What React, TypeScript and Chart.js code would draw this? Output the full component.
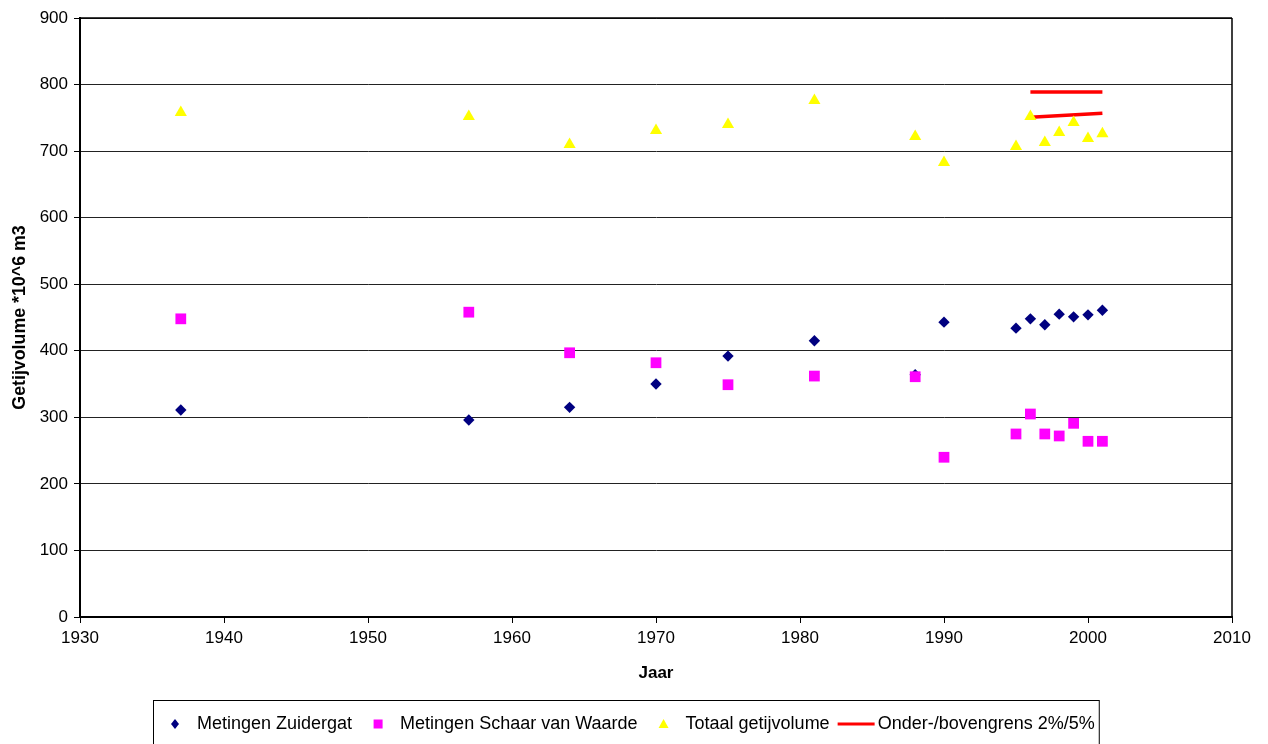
import React, { useEffect, useRef } from 'react';
import { Chart, registerables } from 'chart.js';

Chart.register(...registerables);

const years = [1937, 1957, 1964, 1970, 1975, 1981, 1988, 1990, 1995, 1996, 1997, 1998, 1999, 2000, 2001];
const zuidergat = [311, 296, 315, 350, 392, 415, 364, 443, 434, 448, 439, 455, 451, 454, 461];
const schaar = [448, 458, 397, 382, 349, 362, 361, 240, 275, 305, 275, 272, 291, 264, 264];
const totaal = [758, 752, 710, 731, 740, 776, 722, 683, 707, 752, 713, 728, 743, 719, 726];
const grensYears = [1996, 2001];
const ondergrens = [751, 757];
const bovengrens = [789, 789];

const seriesLabels = ['Metingen Zuidergat', 'Metingen Schaar van Waarde', 'Totaal getijvolume', 'Onder-/bovengrens 2%/5%'];
const xTitle = 'Jaar';
const yTitle = 'Getijvolume *10^6 m3';

const NAVY = '#000080';
const MAGENTA = '#FF00FF';
const YELLOW = '#FFFF00';
const RED = '#FF0000';
const FONT = '"Liberation Sans", Arial, sans-serif';

const pts = (xs: number[], ys: number[]) => xs.map((x, i) => ({ x, y: ys[i] }));

const frameLegendPlugin = {
  id: 'frameLegend',
  afterDraw(chart: any) {
    const ctx = chart.ctx as CanvasRenderingContext2D;
    const a = chart.chartArea;
    ctx.save();
    ctx.strokeStyle = '#000';
    ctx.lineWidth = 1.5;
    ctx.beginPath();
    ctx.moveTo(a.right, a.top);
    ctx.lineTo(a.right, a.bottom);
    ctx.moveTo(a.left, a.top);
    ctx.lineTo(a.right, a.top);
    ctx.stroke();

    // boxed legend
    const items = chart.data.datasets.filter((d: any) => !d.hideInLegend);
    ctx.font = '18px ' + FONT;
    ctx.textBaseline = 'middle';
    ctx.textAlign = 'left';
    const boxLeft = 153;
    const boxTop = 700;
    const y = 724;
    let x = boxLeft + 22;
    let lastEnd = x;
    items.forEach((d: any) => {
      const style = d.legendMarker;
      ctx.fillStyle = d.backgroundColor;
      ctx.strokeStyle = d.borderColor;
      if (style === 'diamond') {
        ctx.beginPath();
        ctx.moveTo(x, y - 5);
        ctx.lineTo(x + 4, y);
        ctx.lineTo(x, y + 5);
        ctx.lineTo(x - 4, y);
        ctx.closePath();
        ctx.fill();
      } else if (style === 'square') {
        ctx.fillRect(x - 4.5, y - 4.5, 9, 9);
      } else if (style === 'triangle') {
        ctx.beginPath();
        ctx.moveTo(x, y - 5);
        ctx.lineTo(x + 5, y + 4);
        ctx.lineTo(x - 5, y + 4);
        ctx.closePath();
        ctx.fill();
      } else {
        ctx.lineWidth = 3;
        ctx.beginPath();
        ctx.moveTo(x - 18, y);
        ctx.lineTo(x + 19, y);
        ctx.stroke();
      }
      const tx = x + 22;
      ctx.fillStyle = '#000';
      ctx.fillText(d.label, tx, y);
      const w = ctx.measureText(d.label).width;
      lastEnd = tx + w;
      x = lastEnd + 26;
    });
    ctx.strokeStyle = '#000';
    ctx.lineWidth = 1;
    ctx.strokeRect(boxLeft + 0.5, boxTop + 0.5, lastEnd + 4 - boxLeft, 80);
    ctx.restore();
  },
};

export default function App() {
  const ref = useRef<HTMLCanvasElement | null>(null);

  useEffect(() => {
    if (!ref.current) return;
    const chart = new Chart(ref.current, {
      type: 'scatter',
      data: {
        datasets: [
          {
            label: seriesLabels[0],
            data: pts(years, zuidergat),
            pointStyle: 'rectRot',
            pointRadius: 5.7,
            pointHoverRadius: 5.7,
            backgroundColor: NAVY,
            borderColor: NAVY,
            borderWidth: 0,
            order: 4,
            legendMarker: 'diamond',
          } as any,
          {
            label: seriesLabels[1],
            data: pts(years, schaar),
            pointStyle: 'rect',
            pointRadius: 7.6,
            pointHoverRadius: 7.6,
            backgroundColor: MAGENTA,
            borderColor: MAGENTA,
            borderWidth: 0,
            order: 3,
            legendMarker: 'square',
          } as any,
          {
            label: seriesLabels[2],
            data: pts(years, totaal),
            pointStyle: 'triangle',
            pointRadius: 7,
            pointHoverRadius: 7,
            backgroundColor: YELLOW,
            borderColor: YELLOW,
            borderWidth: 0,
            order: 2,
            legendMarker: 'triangle',
          } as any,
          {
            label: seriesLabels[3],
            data: pts(grensYears, ondergrens),
            showLine: true,
            pointRadius: 0,
            borderColor: RED,
            backgroundColor: RED,
            borderWidth: 3.5,
            order: 5,
            legendMarker: 'line',
          } as any,
          {
            label: seriesLabels[3],
            data: pts(grensYears, bovengrens),
            showLine: true,
            pointRadius: 0,
            borderColor: RED,
            backgroundColor: RED,
            borderWidth: 3.5,
            order: 5,
            hideInLegend: true,
          } as any,
        ],
      },
      options: {
        animation: false,
        responsive: false,
        layout: { padding: { top: 18, right: 36, left: 9, bottom: 60 } },
        plugins: {
          legend: { display: false },
          tooltip: { enabled: false },
        },
        scales: {
          x: {
            type: 'linear',
            min: 1930,
            max: 2010,
            ticks: {
              stepSize: 10,
              callback: (v: any) => String(v),
              color: '#000',
              font: { size: 17, family: FONT },
              padding: 5,
              maxRotation: 0,
            },
            grid: {
              drawOnChartArea: false,
              drawTicks: true,
              tickLength: 6,
              tickColor: '#000',
            },
            border: { display: true, color: '#000', width: 2 },
            title: {
              display: true,
              text: xTitle,
              color: '#000',
              font: { size: 17, weight: 'bold', family: FONT },
              padding: 0,
            },
            afterFit: (s: any) => {
              s.height = 67;
            },
          },
          y: {
            type: 'linear',
            min: 0,
            max: 900,
            ticks: {
              stepSize: 100,
              color: '#000',
              font: { size: 17, family: FONT },
              padding: 6,
            },
            grid: {
              color: '#222',
              lineWidth: 1,
              drawTicks: true,
              tickLength: 6,
              tickColor: '#000',
            },
            border: { display: true, color: '#000', width: 2 },
            title: {
              display: true,
              text: yTitle,
              color: '#000',
              font: { size: 17.8, weight: 'bold', family: FONT },
              padding: 0,
            },
            afterFit: (s: any) => {
              s.width = 71;
            },
          },
        },
      } as any,
      plugins: [frameLegendPlugin],
    });
    return () => chart.destroy();
  }, []);

  return (
    <div style={{ position: 'absolute', left: 0, top: 0, width: 1268, height: 744, background: '#fff' }}>
      <canvas ref={ref} width={1268} height={744} style={{ display: 'block' }} />
    </div>
  );
}
